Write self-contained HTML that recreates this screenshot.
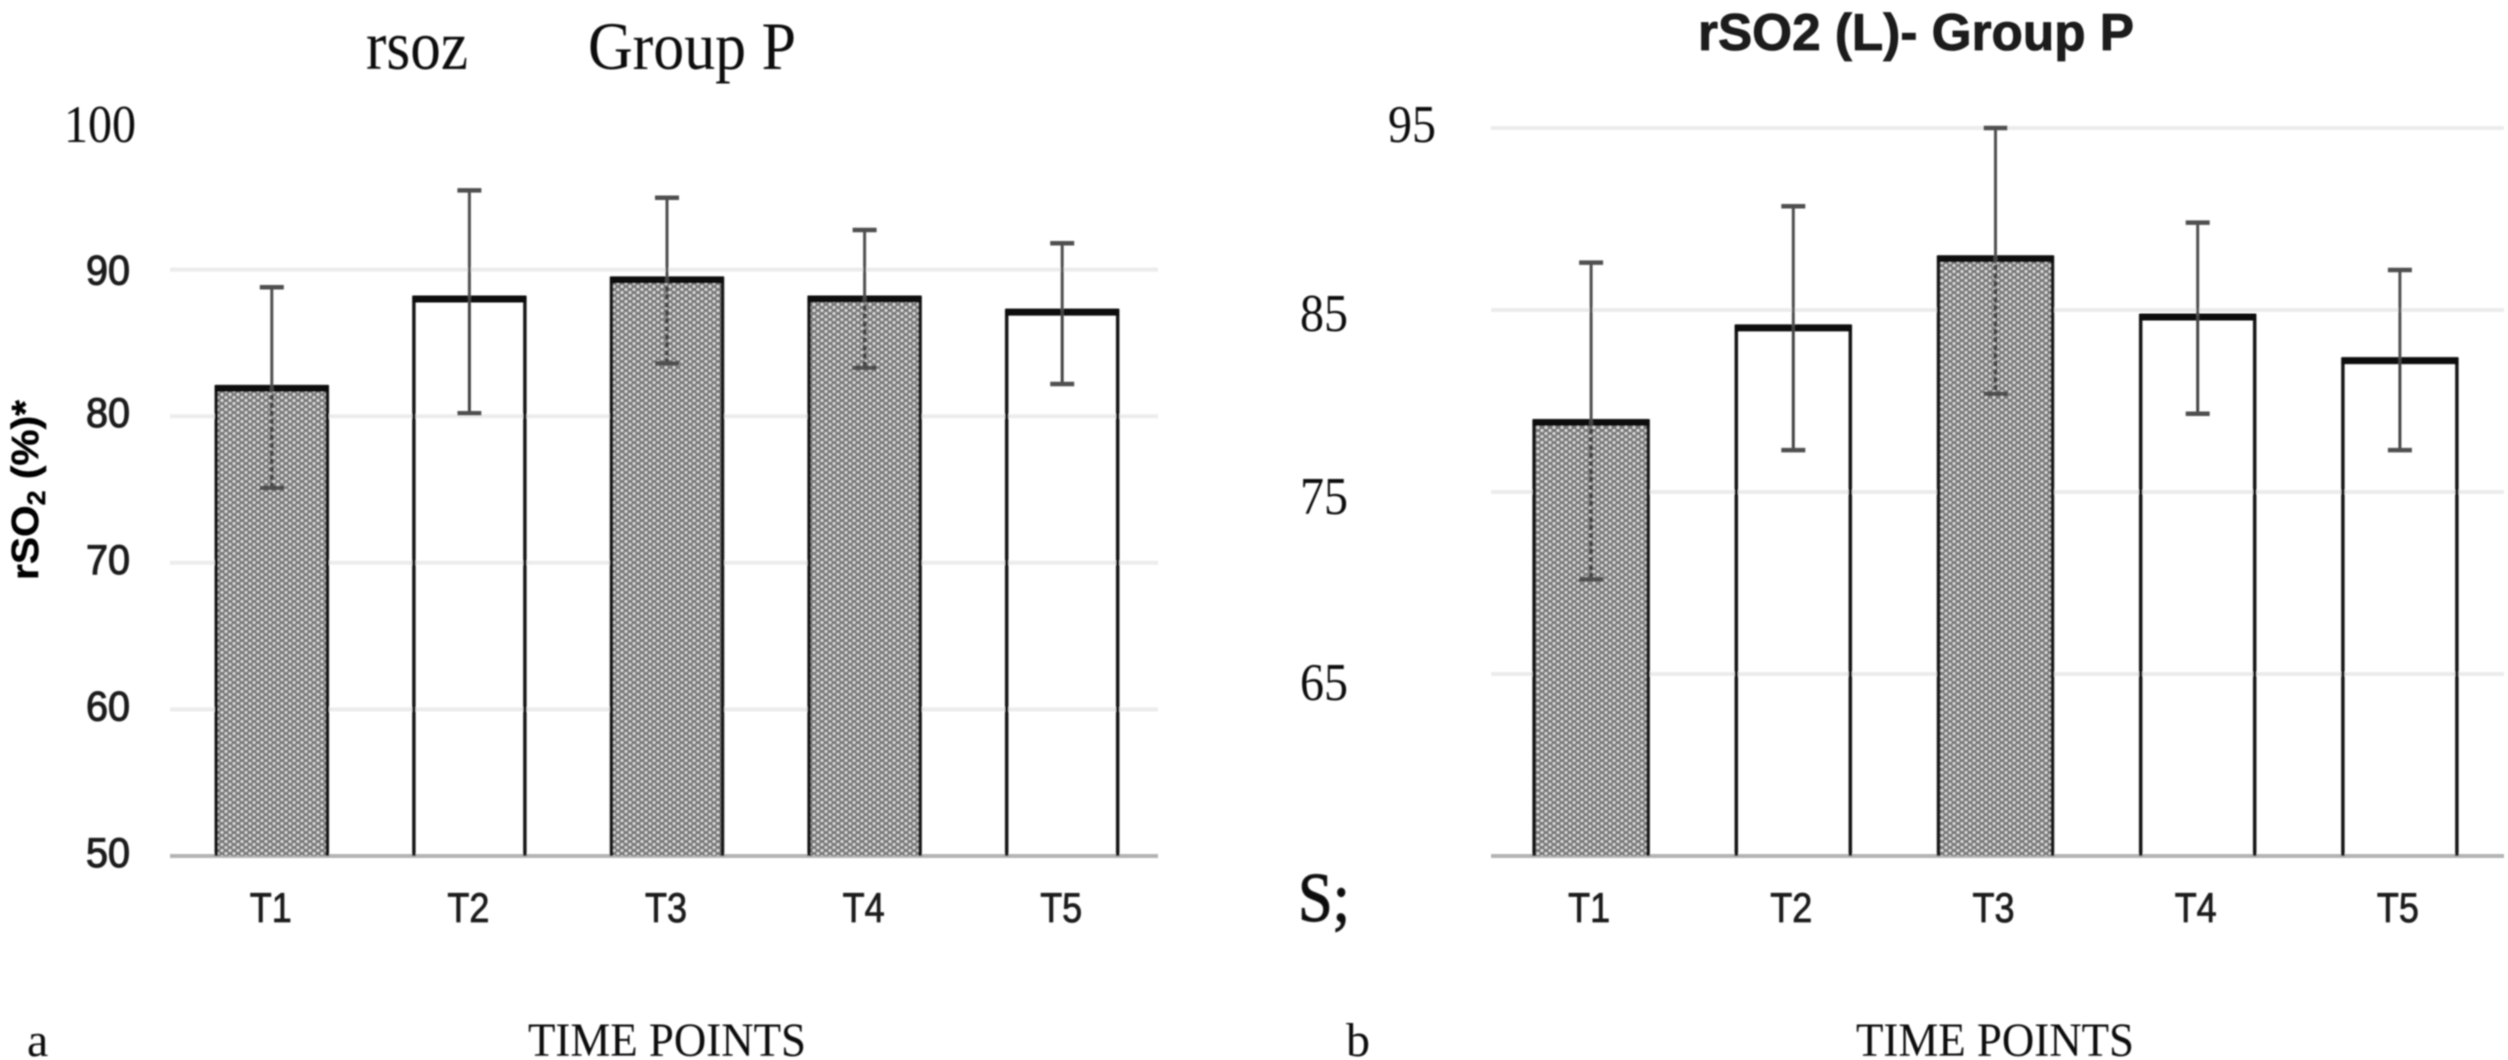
<!DOCTYPE html>
<html lang="en">
<head>
<meta charset="utf-8">
<title>rSO2 Group P charts</title>
<style>
html,body{margin:0;padding:0;background:#fff;width:2508px;height:1060px;overflow:hidden}
svg{display:block}
.serif{font-family:"Liberation Serif",serif;fill:#111}
.sans{font-family:"Liberation Sans",sans-serif;fill:#1a1a1a}
</style>
</head>
<body>
<svg id="figure" width="2508" height="1060" viewBox="0 0 2508 1060" xmlns="http://www.w3.org/2000/svg">
<defs>
<pattern id="dots" patternUnits="userSpaceOnUse" width="8" height="6">
<rect width="8" height="6" fill="#787878"/>
<circle cx="2" cy="1.5" r="1.5" fill="#dedede"/>
<circle cx="6" cy="4.5" r="1.5" fill="#dedede"/>
</pattern>
<filter id="soft" filterUnits="userSpaceOnUse" x="0" y="0" width="2508" height="1060"><feGaussianBlur stdDeviation="0.7"/></filter>
</defs>
<rect width="2508" height="1060" fill="#fff"/>
<g id="root" filter="url(#soft)">
<g id="chartA"></g>
<g id="chartB"></g>
<text class="serif" x="366" y="69" font-size="70" textLength="102" lengthAdjust="spacingAndGlyphs">rsoz</text>
<text class="serif" x="588" y="69" font-size="68" textLength="208" lengthAdjust="spacingAndGlyphs">Group P</text>
<text class="sans" x="1698" y="50" font-size="52" font-weight="700" stroke="#111" stroke-width="0.8" textLength="436" lengthAdjust="spacingAndGlyphs">rSO2 (L)- Group P</text>
<text class="sans" transform="translate(38 580) rotate(-90)" font-size="38" font-weight="700" style="fill:#000" stroke="#000" stroke-width="0.4" textLength="180" lengthAdjust="spacingAndGlyphs">rSO<tspan font-size="25" dy="7">2</tspan><tspan dy="-7"> (%)*</tspan></text>
<text class="serif" x="528" y="1056" font-size="48" textLength="278" lengthAdjust="spacingAndGlyphs">TIME POINTS</text>
<text class="serif" x="1856" y="1056" font-size="48" textLength="278" lengthAdjust="spacingAndGlyphs">TIME POINTS</text>
<text class="serif" x="27" y="1056" font-size="48">a</text>
<text class="serif" x="1346" y="1056" font-size="48">b</text>
</g>
</svg>
<script>
const categories = ["T1", "T2", "T3", "T4", "T5"];
const shadedSeries = [true, false, true, true, false];

const meansA = [82.0, 88.1, 89.4, 88.1, 87.2];
const upperA = [88.8, 95.4, 94.9, 92.7, 91.8];
const lowerA = [75.1, 80.2, 83.6, 83.3, 82.2];
const gridValuesA = [90, 80, 70, 60, 50];
const tickValuesA = [100, 90, 80, 70, 60, 50];
const tickLabelsA = ["100", "90", "80", "70", "60", "50"];

const shadedSeriesB = [true, false, true, false, false];
const meansB = [78.9, 84.1, 87.9, 84.7, 82.3];
const upperB = [87.6, 90.7, 95.0, 89.8, 87.2];
const lowerB = [70.2, 77.3, 80.4, 79.3, 77.3];
const gridValuesB = [95, 85, 75, 65, 55];
const tickValuesB = [95, 85, 75, 65, 55];
const tickLabelsB = ["95", "85", "75", "65", "S;"];

const NS = "http://www.w3.org/2000/svg";
function make(parent, tag, props) {
  const node = document.createElementNS(NS, tag);
  for (const k in props) node.setAttribute(k, props[k]);
  parent.appendChild(node);
  return node;
}

function tickStyleA(i) {
  if (i === 0) return { cls: "serif", size: 53, end: 136, dy: 19, len: 72, stroke: 0 };
  return { cls: "sans", size: 42, end: 130, dy: i === 1 ? 15 : 11, len: 44, stroke: 1.1 };
}
function tickStyleB(i) {
  if (i === 0) return { cls: "serif", size: 53, end: 1436, dy: 14, len: 48, stroke: 0 };
  if (i === 4) return { cls: "serif", size: 70, end: 1350, dy: 65, len: 52, stroke: 1.2 };
  const offsets = { 1: 21, 2: 22, 3: 26 };
  return { cls: "serif", size: 53, end: 1348, dy: offsets[i], len: 48, stroke: 0 };
}

function drawChart(g, opts) {
  const y = opts.y, x = opts.x, id = opts.id;

  opts.gridValues.forEach(function (v, i) {
    const isBase = i === opts.gridValues.length - 1;
    const line = make(g, "line", { x1: opts.left, x2: opts.right, y1: y(v), y2: y(v), stroke: isBase ? "#b4b4b4" : "#ececec", "stroke-width": 4 });
    
    
  });

  opts.tickValues.forEach(function (v, i) {
    const s = opts.tickStyle(i);
    const t = make(g, "text", { x: s.end - s.len, y: y(v) + s.dy, "font-size": s.size, "class": s.cls, textLength: s.len, lengthAdjust: "spacingAndGlyphs", stroke: s.stroke ? "#1a1a1a" : "none", "stroke-width": s.stroke });
    t.textContent = opts.tickLabels[i];
    
    
  });

  categories.forEach(function (c, i) {
    const cx = x(i), top = y(opts.means[i]), base = y(opts.base);
    const half = opts.barWidth / 2;
    const body = make(g, "rect", { x: cx - half, y: top, width: opts.barWidth, height: base - top, fill: opts.shaded[i] ? "url(#dots)" : "none" });
    
    

    const outline = make(g, "path", { d: "M" + (cx - half) + " " + base + "V" + top + "H" + (cx + half) + "V" + base, fill: "none", stroke: "#141414", "stroke-width": 3.5 });
    
    

    const cap = make(g, "line", { x1: cx - half - 1, x2: cx + half + 1, y1: top + 1.5, y2: top + 1.5, stroke: "#0a0a0a", "stroke-width": 7 });
    
    

    const hi = y(opts.upper[i]), lo = y(opts.lower[i]);
    const stemTop = make(g, "line", { x1: cx, x2: cx, y1: hi, y2: top, stroke: "#505050", "stroke-width": 3 });
    
    

    const stemBottom = make(g, "line", { x1: cx, x2: cx, y1: top, y2: lo, stroke: "#444", "stroke-width": opts.shaded[i] ? 4 : 3, "stroke-dasharray": opts.shaded[i] ? "5 3" : "none" });
    
    

    const capHi = make(g, "line", { x1: cx - 12, x2: cx + 12, y1: hi, y2: hi, stroke: "#505050", "stroke-width": 4.5 });
    
    

    const capLo = make(g, "line", { x1: cx - 12, x2: cx + 12, y1: lo, y2: lo, stroke: "#505050", "stroke-width": 4.5 });
    
    

    const label = make(g, "text", { x: cx + opts.labelShift, y: 922, "font-size": 42, "class": "sans", "text-anchor": "middle", textLength: 42, lengthAdjust: "spacingAndGlyphs", stroke: "#1a1a1a", "stroke-width": 0.8 });
    label.textContent = c;
    
    
  });
}

drawChart(document.getElementById("chartA"), {
  id: "chart-a",
  y: function (v) { return 856 - (v - 50) * 14.66; },
  x: function (i) { return 173 + 197.6 * (i + 0.5); },
  left: 170, right: 1158, base: 50, barWidth: 111, labelShift: -1,
  gridValues: gridValuesA, tickValues: tickValuesA, tickLabels: tickLabelsA,
  tickStyle: tickStyleA, means: meansA, upper: upperA, lower: lowerA, shaded: shadedSeries
});

drawChart(document.getElementById("chartB"), {
  id: "chart-b",
  y: function (v) { return 856 - (v - 55) * 18.2; },
  x: function (i) { return 1490 + 202.2 * (i + 0.5); },
  left: 1491, right: 2504, base: 55, barWidth: 114, labelShift: -2,
  gridValues: gridValuesB, tickValues: tickValuesB, tickLabels: tickLabelsB,
  tickStyle: tickStyleB, means: meansB, upper: upperB, lower: lowerB, shaded: shadedSeriesB
});
</script>
</body>
</html>
